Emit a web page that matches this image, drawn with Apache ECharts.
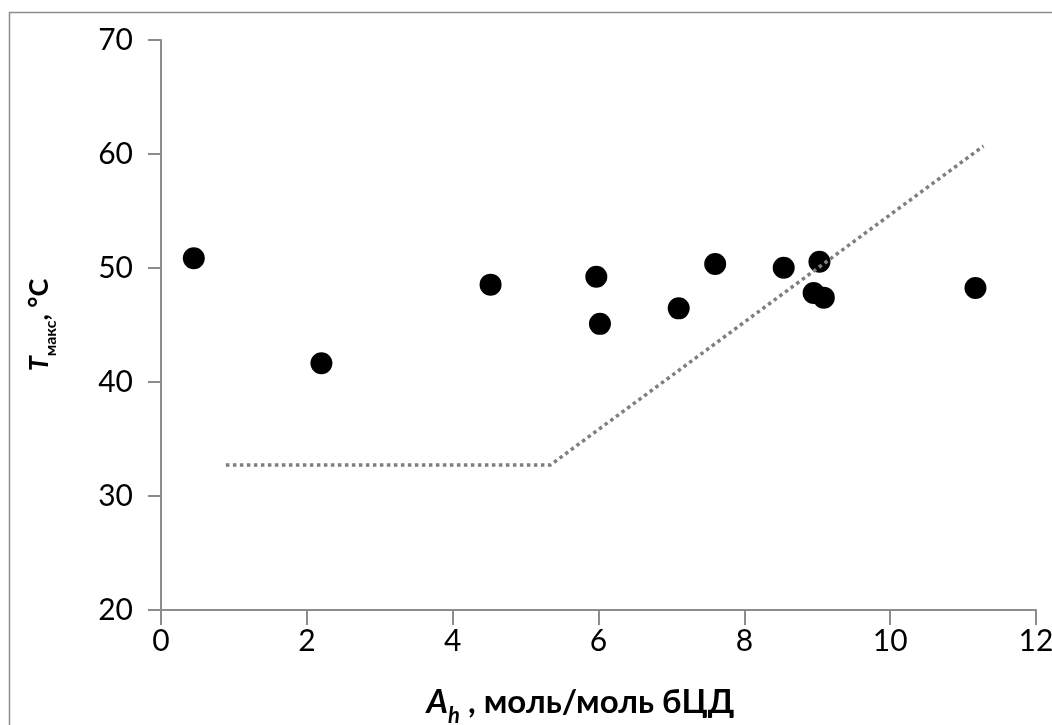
<!DOCTYPE html>
<html>
<head>
<meta charset="utf-8">
<script src="https://cdn.jsdelivr.net/npm/echarts@6/dist/echarts.min.js"></script>
<style>
html,body{margin:0;padding:0;background:#fff;}
#chart{width:1052px;height:725px;}
</style>
</head>
<body>
<div id="chart"></div>
<script>
// Measured points: A_h (mol/mol bCD) and T_max (°C)
const pointsX = [0.45, 2.20, 4.52, 5.97, 6.02, 7.10, 7.60, 8.54, 9.03, 8.95, 9.09, 11.17];
const pointsY = [50.85, 41.64, 48.54, 49.24, 45.10, 46.46, 50.35, 50.03, 50.55, 47.80, 47.40, 48.25];
// Dotted guide line vertices
const guideX = [0.89, 5.34, 11.28];
const guideY = [32.72, 32.72, 60.7];
// Axis ticks
const xTicks = [0, 2, 4, 6, 8, 10, 12];
const yTicks = [20, 30, 40, 50, 60, 70];

const font = 'Lato, "Open Sans", "DejaVu Sans", sans-serif';
const chart = echarts.init(document.getElementById('chart'), null, {renderer: 'canvas'});
const scatterData = pointsX.map((x, i) => [x, pointsY[i]]);
const guideData = guideX.map((x, i) => [x, guideY[i]]);

chart.setOption({
  animation: false,
  backgroundColor: '#fff',
  graphic: [{
    type: 'rect', left: 7, top: 10, z: -10,
    shape: {width: 1200, height: 900},
    style: {fill: 'none', stroke: '#8c8c8c', lineWidth: 1.5}
  }],
  grid: {left: 161, top: 40, right: 16, bottom: 115, containLabel: false, outerBoundsMode: 'none'},
  xAxis: {
    type: 'value', min: xTicks[0], max: xTicks[xTicks.length - 1], interval: 2,
    axisLine: {show: true, lineStyle: {color: '#8c8c8c', width: 2}},
    axisTick: {show: true, length: 15, lineStyle: {color: '#8c8c8c', width: 2}},
    splitLine: {show: false},
    axisLabel: {color: '#000', fontSize: 30, fontFamily: font, margin: 16},
    name: '{A|A}{h|h}{t| , моль/моль бЦД}',
    nameLocation: 'middle', nameGap: 76,
    nameTextStyle: {
      fontFamily: font,
      padding: [0, 36, 0, 0],
      rich: {
        A: {fontSize: 33, fontWeight: 'bold', fontStyle: 'italic', fontFamily: font, color: '#000'},
        h: {fontSize: 22, fontWeight: 'bold', fontStyle: 'italic', fontFamily: font, color: '#000', verticalAlign: 'bottom', padding: [0, 0, -8, 0]},
        t: {fontSize: 33, fontWeight: 'bold', fontFamily: font, color: '#000'}
      }
    }
  },
  yAxis: {
    type: 'value', min: yTicks[0], max: yTicks[yTicks.length - 1], interval: 10,
    axisLine: {show: true, lineStyle: {color: '#8c8c8c', width: 2}},
    axisTick: {show: true, length: 13, lineStyle: {color: '#8c8c8c', width: 2}},
    splitLine: {show: false},
    axisLabel: {color: '#000', fontSize: 30, fontFamily: font, margin: 28},
    name: '{T|T}{s|макс}{t|, °C}',
    nameLocation: 'middle', nameGap: 108, nameRotate: 90,
    nameTextStyle: {
      fontFamily: font,
      rich: {
        T: {fontSize: 27, fontWeight: 'bold', fontStyle: 'italic', fontFamily: font, color: '#000'},
        s: {fontSize: 16, fontWeight: 'bold', fontFamily: font, color: '#000', verticalAlign: 'bottom', padding: [0, 0, -6, 0]},
        t: {fontSize: 27, fontWeight: 'bold', fontFamily: font, color: '#000'}
      }
    }
  },
  series: [
    {
      type: 'line', data: guideData, symbol: 'none', z: 3,
      lineStyle: {color: '#7f7f7f', width: 3.5, type: [3.5, 3.5]}
    },
    {
      type: 'scatter', data: scatterData, symbol: 'circle', symbolSize: 22, z: 2,
      itemStyle: {color: '#000', opacity: 1}
    }
  ]
});
</script>
</body>
</html>
